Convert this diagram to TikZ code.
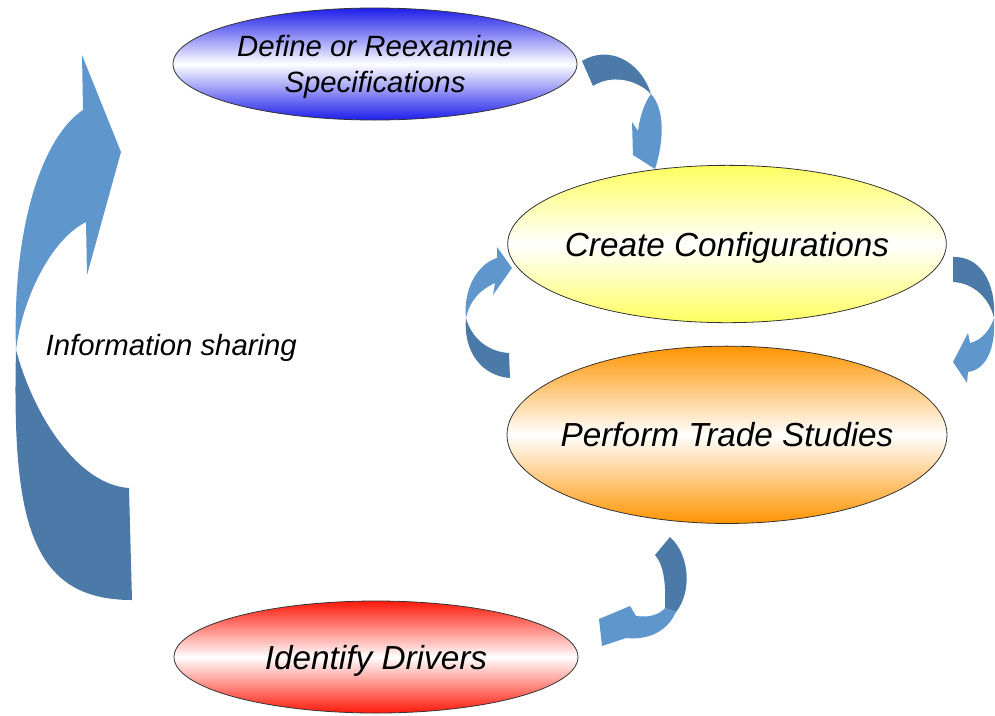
\documentclass[tikz,border=0pt]{standalone}
\usepackage{fontspec}
\setmainfont{Liberation Sans}
\usetikzlibrary{shapes.geometric, positioning}
\definecolor{arrowdark}{RGB}{76,122,168}
\definecolor{arrowlight}{RGB}{95,151,204}
\definecolor{specblue}{RGB}{30,30,235}
\definecolor{confyellow}{RGB}{255,255,95}
\definecolor{tradeorange}{RGB}{255,148,0}
\definecolor{driverred}{RGB}{255,25,10}
\tikzset{
	x=0.75pt, y=-0.75pt, % one unit is one pixel of the reference, y goes down
	task/.style={ellipse, draw=black!80, line width=0.6pt, inner xsep=-20pt, inner ysep=0pt, align=center,
		text depth=0pt, font=\itshape\fontsize{25}{30}\selectfont}, % sets the properties for each ellipse
	shade with/.style={top color=#1, bottom color=#1, middle color=white}, % colour at the rim, white in the middle
}

\begin{document}
\begin{tikzpicture}
	\useasboundingbox (0,0) rectangle (995,715);
	\node[task, shade with=specblue, minimum width=303pt, minimum height=84pt,
		font=\itshape\fontsize{22}{26.5}\selectfont] (spec) at (375,64) {Define or Reexamine\\Specifications};
	\node[task, shade with=confyellow, minimum width=329pt, minimum height=118pt] (conf) at (727,244) {Create Configurations};
	\node[task, shade with=tradeorange, minimum width=330pt, minimum height=133pt, below=17pt of conf] (trade) {Perform Trade Studies};
	\node[task, shade with=driverred, minimum width=303pt, minimum height=84pt] (drivers) at (376,657) {Identify Drivers};
	\node[anchor=west, font=\itshape\fontsize{22}{26}\selectfont] (info) at (41,348) {Information sharing};
	% spec -> conf
	\fill[arrowdark] (582,61) .. controls (608,45) and (640,60) .. (651,94) .. controls (635,78) and (610,75) .. (593,86) -- cycle;
	\fill[arrowlight] (651,94) .. controls (664,108) and (665,138) .. (655,169) -- (633,155) -- (632,122) -- (638,131) .. controls (640,115) and (645,102) .. (651,94) -- cycle;
	% trade -> conf
	\fill[arrowlight] (466,318) .. controls (463,290) and (477,264) .. (497,258) -- (497,247) -- (512,268) -- (493,295) -- (495,283) .. controls (480,290) and (470,300) .. (466,318) -- cycle;
	\fill[arrowdark] (466,318) .. controls (463,352) and (482,376) .. (510,378) -- (509,353) .. controls (490,352) and (472,340) .. (466,318) -- cycle;
	% conf -> trade
	\fill[arrowdark] (953,257) .. controls (980,256) and (996,282) .. (994,318) .. controls (990,300) and (975,283) .. (953,282) -- cycle;
	\fill[arrowlight] (994,318) .. controls (996,350) and (985,370) .. (968,372) -- (967,383) -- (953,362) -- (968,333) -- (970,343) .. controls (982,340) and (990,330) .. (994,318) -- cycle;
	% trade -> drivers
	\fill[arrowdark] (670,537) .. controls (690,555) and (692,592) .. (676,612) -- (665,608) .. controls (666,585) and (664,565) .. (655,555) -- cycle;
	\fill[arrowlight] (676,612) .. controls (666,634) and (645,640) .. (626,638) -- (602,646) -- (599,619) -- (630,606) -- (636,616) .. controls (650,618) and (660,614) .. (665,608) -- cycle;
	% drivers -> spec, information sharing
	\fill[arrowlight] (16,350) .. controls (12,220) and (45,135) .. (83,110) -- (82,55) -- (121,152) -- (87,275) -- (86,222) .. controls (50,240) and (22,300) .. (16,350) -- cycle;
	\fill[arrowdark] (16,350) .. controls (12,520) and (30,600) .. (132,600) -- (129,488) .. controls (80,485) and (35,420) .. (16,350) -- cycle;
\end{tikzpicture}
\end{document}
